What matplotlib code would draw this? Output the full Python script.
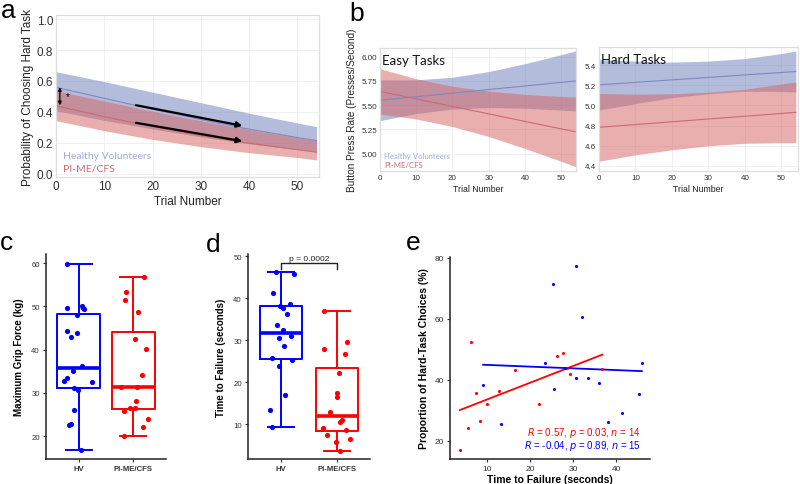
import numpy as np
import matplotlib.pyplot as plt

plt.rcParams['font.family'] = ['Liberation Sans', 'DejaVu Sans']

# ---- panel a: probability of choosing hard task (model fit + CI)
trial = [0, 10, 20, 30, 40, 50, 54]
a_hv_mid = [0.559, 0.488, 0.418, 0.351, 0.289, 0.235, 0.215]
a_hv_hi = [0.660, 0.596, 0.528, 0.460, 0.392, 0.329, 0.305]
a_hv_lo = [0.408, 0.346, 0.290, 0.239, 0.195, 0.157, 0.145]
a_pi_mid = [0.440, 0.370, 0.305, 0.248, 0.198, 0.157, 0.140]
a_pi_hi = [0.537, 0.471, 0.405, 0.343, 0.286, 0.234, 0.215]
a_pi_lo = [0.344, 0.279, 0.223, 0.176, 0.137, 0.106, 0.090]

# ---- panel b: button press rate, easy / hard tasks
easy_hv_mid = [5.550, 5.587, 5.624, 5.661, 5.698, 5.735, 5.750]
easy_hv_hi = [5.760, 5.761, 5.788, 5.847, 5.928, 6.021, 6.060]
easy_hv_lo = [5.340, 5.413, 5.460, 5.475, 5.468, 5.449, 5.440]
easy_pi_mid = [5.642, 5.565, 5.487, 5.410, 5.332, 5.255, 5.224]
easy_pi_hi = [5.876, 5.773, 5.695, 5.644, 5.611, 5.590, 5.584]
easy_pi_lo = [5.408, 5.357, 5.279, 5.176, 5.053, 4.920, 4.864]

hard_hv_mid = [5.205, 5.229, 5.254, 5.278, 5.303, 5.327, 5.337]
hard_hv_hi = [5.455, 5.440, 5.430, 5.440, 5.465, 5.515, 5.540]
hard_hv_lo = [4.955, 5.018, 5.078, 5.116, 5.141, 5.139, 5.134]
hard_pi_mid = [4.783, 4.811, 4.838, 4.866, 4.893, 4.921, 4.932]
hard_pi_hi = [5.119, 5.112, 5.116, 5.132, 5.161, 5.212, 5.234]
hard_pi_lo = [4.447, 4.510, 4.560, 4.600, 4.625, 4.630, 4.630]

# ---- panel c: max grip force (kg)
grip_hv = [59.8, 49.5, 50.0, 49.3, 49.7, 47.9, 44.2, 43.9, 42.8, 36.2, 35.1, 33.4,
           32.7, 32.4, 31.2, 30.6, 26.0, 22.9, 22.5, 16.7]
grip_hv_jit = [-0.215, -0.215, 0.061, 0.092, 0.08, -0.025, -0.215, -0.037, -0.135, 0.055,
               -0.104, -0.209, -0.264, 0.245, -0.086, -0.012, -0.092, -0.147, -0.172, 0.043]
grip_pi = [56.8, 53.4, 51.5, 48.6, 42.4, 40.1, 34.1, 31.4, 31.4, 28.0, 26.6, 26.4,
           25.8, 24.0, 22.0, 20.1]
grip_pi_jit = [0.202, -0.141, -0.147, 0.080, 0.037, 0.227, 0.153, -0.233, 0.074, 0.043,
               0.031, -0.055, -0.172, 0.264, 0.178, -0.172]

# ---- panel d: time to failure (s)
ttf_hv = [46.1, 45.8, 41.3, 38.2, 38.7, 37.7, 36.3, 33.7, 32.5, 30.5, 31.0, 28.5,
          25.7, 25.3, 23.9, 16.9, 13.3, 9.3]
ttf_hv_jit = [-0.089, 0.226, -0.143, -0.018, 0.161, 0.036, 0.107, -0.071, 0.030, -0.042,
              0.179, 0.042, -0.167, 0.196, -0.042, 0.060, -0.202, -0.167]
ttf_pi = [37.0, 27.9, 29.6, 26.6, 22.2, 17.3, 16.5, 12.9, 11.0, 10.6, 9.0, 7.5,
          8.6, 6.4, 5.8, 3.6]
ttf_pi_jit = [-0.232, -0.232, 0.185, 0.155, 0.042, 0.0, 0.012, -0.119, 0.101, 0.060,
              -0.25, -0.173, 0.167, 0.238, -0.018, 0.054]

# ---- panel e: hard-task choices vs time to failure
e_pi_x = [3.7, 5.7, 6.2, 7.5, 8.4, 10.1, 12.9, 16.5, 22.2, 26.2, 27.6, 28.5, 29.3, 36.8]
e_pi_y = [17.1, 24.1, 52.6, 35.6, 26.6, 32.1, 36.3, 43.3, 32.1, 47.9, 49.0, 43.8, 41.9, 43.7]
e_hv_x = [9.1, 13.3, 23.6, 25.3, 25.5, 28.2, 30.6, 30.7, 32.2, 33.4, 36.1, 38.2, 41.3, 45.4, 46.0]
e_hv_y = [38.4, 25.6, 45.5, 71.3, 37.0, 43.9, 77.4, 40.8, 60.6, 40.8, 38.9, 26.1, 29.3, 35.5, 45.5]

BLUE_FILL = '#6b7bb9'
RED_FILL = '#d56161'
BLUE_LINE = '#7e89bd'
RED_LINE = '#cc6a6e'
HV_TXT = '#a3acd6'
PI_TXT = '#cf6b70'

fig = plt.figure(figsize=(8, 4.85), dpi=100)


def px_axes(left, top, right, bottom):
    W, H = 800.0, 485.0
    return fig.add_axes([left / W, 1 - bottom / H, (right - left) / W, (bottom - top) / H])


def gg_style(ax, fs):
    for s in ax.spines.values():
        s.set_color('#dedede')
        s.set_linewidth(0.9)
    ax.grid(True, color='#eeeeee', lw=0.6)
    ax.set_axisbelow(True)
    ax.tick_params(length=0, labelsize=fs, colors='#333333', pad=2)


def bands(ax, hv_lo, hv_hi, hv_mid, pi_lo, pi_hi, pi_mid):
    ax.fill_between(trial, hv_lo, hv_hi, color=BLUE_FILL, alpha=0.5, lw=0)
    ax.fill_between(trial, pi_lo, pi_hi, color=RED_FILL, alpha=0.5, lw=0)
    ax.plot(trial, hv_mid, color=BLUE_LINE, lw=0.8)
    ax.plot(trial, pi_mid, color=RED_LINE, lw=0.8)


# panel a
ax = px_axes(56, 16, 319, 178)
bands(ax, a_hv_lo, a_hv_hi, a_hv_mid, a_pi_lo, a_pi_hi, a_pi_mid)
gg_style(ax, 8.5)
ax.set_xlim(0, 54.5)
ax.set_ylim(-0.02, 1.026)
ax.set_xticks([0, 10, 20, 30, 40, 50])
ax.set_yticks(np.arange(0, 1.01, 0.2))
ax.set_yticklabels(['0.0', '0.2', '0.4', '0.6', '0.8', '1.0'])
ax.set_xlabel('Trial Number', fontsize=8.5, color='#222222', labelpad=2)
ax.set_ylabel('Probability of Choosing Hard Task', fontsize=8.5, color='#222222', labelpad=2)
arrow = dict(arrowstyle='-|>', color='black', lw=1.6, mutation_scale=8)
ax.annotate('', xy=(39.2, 0.307), xytext=(16, 0.447), arrowprops=arrow)
ax.annotate('', xy=(39.2, 0.208), xytext=(16, 0.333), arrowprops=arrow)
ax.annotate('', xy=(0.8, 0.425), xytext=(0.8, 0.578),
            arrowprops=dict(arrowstyle='<|-|>', color='black', lw=0.9, mutation_scale=5))
ax.text(2.0, 0.505, '*', fontsize=7, ha='left', va='center')
ax.text(0.025, 0.13, 'Healthy Volunteers', transform=ax.transAxes, fontsize=7.5,
        family='Lato', color=HV_TXT, va='center')
ax.text(0.025, 0.055, 'PI-ME/CFS', transform=ax.transAxes, fontsize=7.5,
        family='Lato', color=PI_TXT, va='center')

# panel b easy
ax = px_axes(380, 49, 576, 172)
bands(ax, easy_hv_lo, easy_hv_hi, easy_hv_mid, easy_pi_lo, easy_pi_hi, easy_pi_mid)
gg_style(ax, 5.8)
ax.set_xlim(0, 54.1)
ax.set_ylim(4.82, 6.09)
ax.set_xticks([0, 10, 20, 30, 40, 50])
ax.set_yticks([5.0, 5.25, 5.5, 5.75, 6.0])
ax.set_yticklabels(['5.00', '5.25', '5.50', '5.75', '6.00'])
ax.set_xlabel('Trial Number', fontsize=6.3, color='#222222', labelpad=2)
ax.set_ylabel('Button Press Rate (Presses/Second)', fontsize=7.2, color='#222222', labelpad=3)
ax.text(0.01, 0.955, 'Easy Tasks', transform=ax.transAxes, fontsize=9.5, family='Lato',
        color='#111111', va='top')
ax.text(0.02, 0.13, 'Healthy Volunteers', transform=ax.transAxes, fontsize=5.6,
        family='Lato', color=HV_TXT, va='center')
ax.text(0.02, 0.05, 'PI-ME/CFS', transform=ax.transAxes, fontsize=5.6,
        family='Lato', color=PI_TXT, va='center')

# panel b hard
ax = px_axes(599, 48, 798, 172)
bands(ax, hard_hv_lo, hard_hv_hi, hard_hv_mid, hard_pi_lo, hard_pi_hi, hard_pi_mid)
gg_style(ax, 5.8)
ax.set_xlim(0, 54.6)
ax.set_ylim(4.35, 5.58)
ax.set_xticks([0, 10, 20, 30, 40, 50])
ax.set_yticks([4.4, 4.6, 4.8, 5.0, 5.2, 5.4])
ax.set_xlabel('Trial Number', fontsize=6.3, color='#222222', labelpad=2)
ax.text(0.01, 0.955, 'Hard Tasks', transform=ax.transAxes, fontsize=9.5, family='Lato',
        color='#111111', va='top')


def box_panel(ax, hv, hv_jit, pi, pi_jit, width):
    for pos, vals, jit, col in [(1, hv, hv_jit, 'blue'), (2, pi, pi_jit, 'red')]:
        ax.boxplot([vals], positions=[pos], widths=width, capwidths=width * 0.62,
                   showfliers=False, whis=(0, 100),
                   boxprops=dict(color=col, lw=1.4),
                   whiskerprops=dict(color=col, lw=1.4),
                   capprops=dict(color=col, lw=1.4),
                   medianprops=dict(color=col, lw=2.6))
        ax.scatter(pos + np.array(jit), vals, s=14, color=col, zorder=3, lw=0)
    ax.set_xlim(0.4, 2.6)
    ax.set_xticks([1, 2])
    ax.set_xticklabels(['HV', 'PI-ME/CFS'], fontsize=5.6, fontweight='bold', color='#222222')
    for side in ['top', 'right']:
        ax.spines[side].set_visible(False)
    for side in ['left', 'bottom']:
        ax.spines[side].set_color('#222222')
        ax.spines[side].set_linewidth(1.1)
    ax.tick_params(length=2.5, width=0.8, color='#333333', labelsize=5.6,
                   labelcolor='#333333', pad=2)


# panel c
ax = px_axes(46, 255, 166, 460)
box_panel(ax, grip_hv, grip_hv_jit, grip_pi, grip_pi_jit, 0.78)
ax.set_ylim(14.7, 62.1)
ax.set_yticks([20, 30, 40, 50, 60])
ax.set_ylabel('Maximum Grip Force (kg)', fontsize=7, fontweight='bold', labelpad=5)

# panel d
ax = px_axes(248, 255, 370, 460)
box_panel(ax, ttf_hv, ttf_hv_jit, ttf_pi, ttf_pi_jit, 0.76)
ax.set_ylim(1.7, 50.5)
ax.set_yticks([10, 20, 30, 40, 50])
ax.set_ylabel('Time to Failure (seconds)', fontsize=7, fontweight='bold', labelpad=5)
ax.plot([1, 1, 2, 2], [46.9, 48.3, 48.3, 46.9], color='#222222', lw=1.0)
ax.text(1.5, 48.6, 'p = 0.0002', fontsize=6, ha='center', va='bottom', color='#222222')

# panel e
ax = px_axes(450, 258, 650, 460)
ax.scatter(e_pi_x, e_pi_y, s=5, color='red', lw=0, zorder=3)
ax.scatter(e_hv_x, e_hv_y, s=5, color='blue', lw=0, zorder=3)
for xs, ys, col in [(e_pi_x, e_pi_y, 'red'), (e_hv_x, e_hv_y, 'blue')]:
    k, b = np.polyfit(xs, ys, 1)
    xx = np.array([min(xs), max(xs)])
    ax.plot(xx, k * xx + b, color=col, lw=1.3)
ax.set_xlim(1.4, 47.9)
ax.set_ylim(14.1, 80.3)
ax.set_xticks([10, 20, 30, 40])
ax.set_yticks([20, 40, 60, 80])
for side in ['top', 'right']:
    ax.spines[side].set_visible(False)
for side in ['left', 'bottom']:
    ax.spines[side].set_color('#222222')
    ax.spines[side].set_linewidth(1.1)
ax.tick_params(length=2.5, width=0.8, color='#333333', labelsize=6,
               labelcolor='#333333', pad=2)
ax.set_xlabel('Time to Failure (seconds)', fontsize=7.5, fontweight='bold', labelpad=1)
ax.set_ylabel('Proportion of Hard-Task Choices (%)', fontsize=7.5, fontweight='bold', labelpad=4)
ax.text(0.955, 0.132, r'$\it{R}$ = 0.57, $\it{p}$ = 0.03, $\it{n}$ = 14', transform=ax.transAxes,
        fontsize=7, color='red', ha='right', va='center')
ax.text(0.955, 0.068, r'$\it{R}$ = -0.04, $\it{p}$ = 0.89, $\it{n}$ = 15', transform=ax.transAxes,
        fontsize=7, color='blue', ha='right', va='center')

# panel letters
for lbl, x, y in [('a', 1, 18), ('b', 349, 21), ('c', 0, 250), ('d', 206, 252), ('e', 406, 250)]:
    fig.text(x / 800, 1 - y / 485, lbl, fontsize=19, ha='left', va='baseline')

fig.savefig('out.png', dpi=100)
